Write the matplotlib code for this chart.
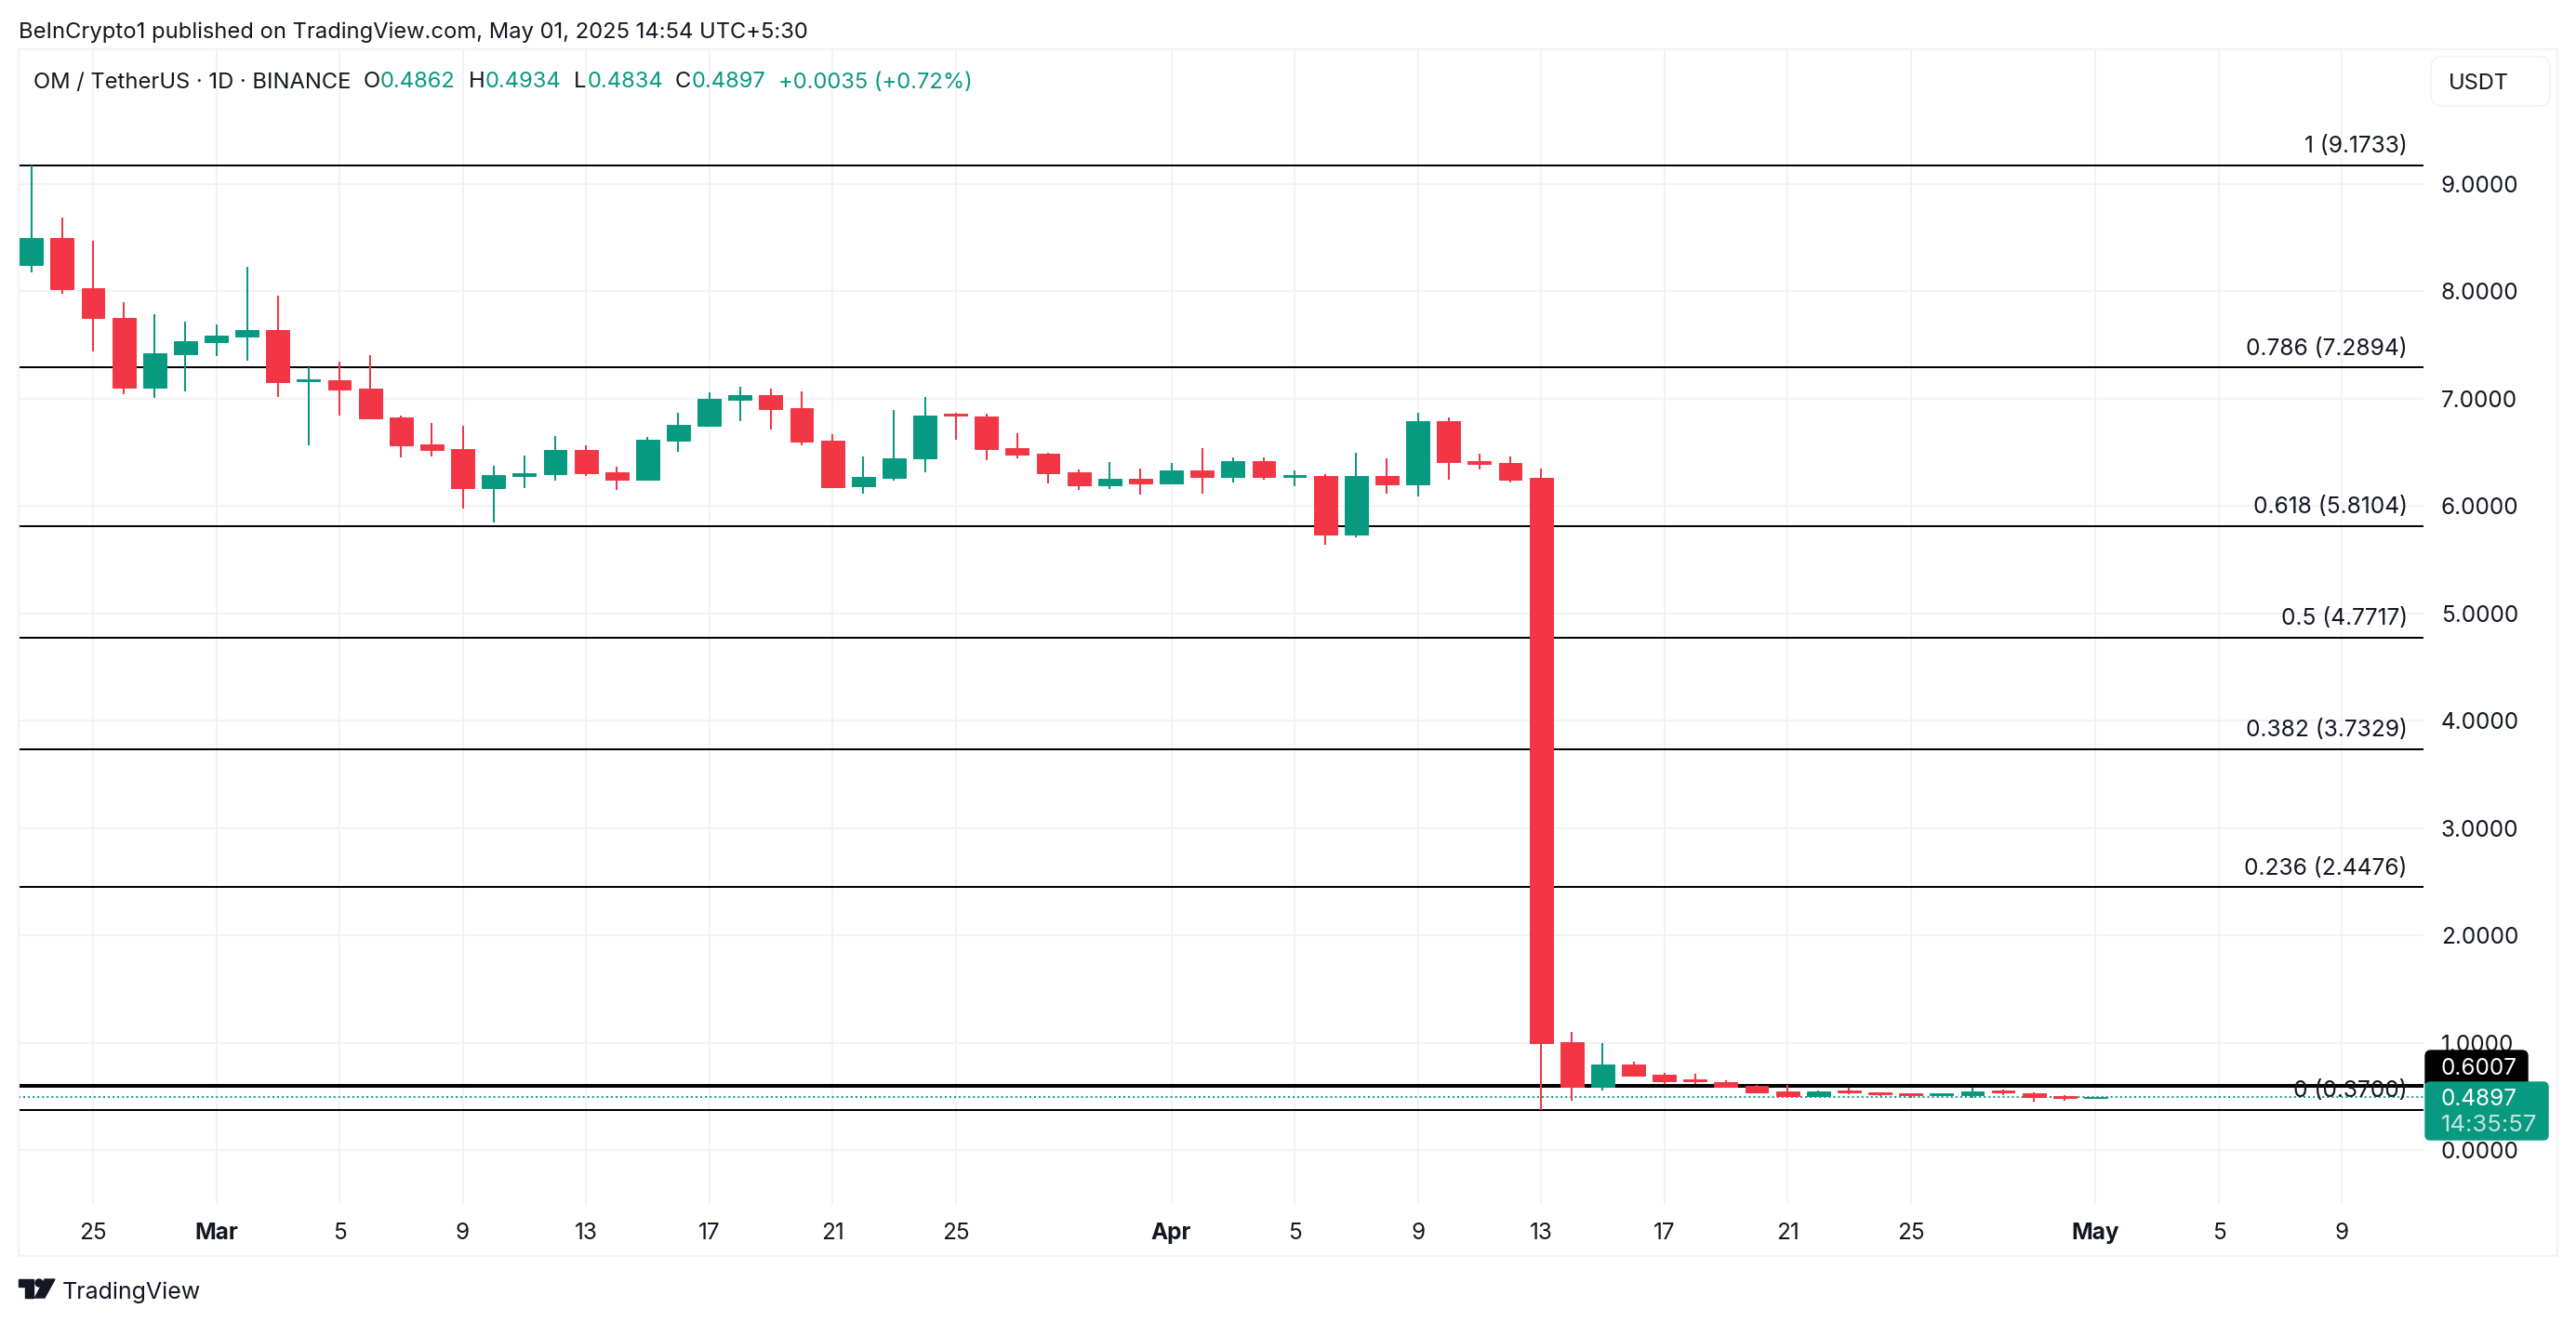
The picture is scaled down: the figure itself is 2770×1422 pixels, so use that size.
#!/usr/bin/env python3

# OM / TetherUS daily candles with fib retracement levels
import numpy as np
import pandas as pd
import matplotlib.pyplot as plt
import matplotlib.dates as mdates
from matplotlib.patches import Rectangle, FancyBboxPatch, Polygon, Circle
from matplotlib.transforms import Affine2D

plt.rcParams['font.family'] = ['Inter', 'DejaVu Sans']

W, H = 2770, 1422
GREEN = '#089981'
RED = '#F23645'
GRID = '#F2F3F6'
INK = '#131722'

first_day = '2025-02-23'
opens = [8.243, 8.498, 8.030, 7.752, 7.103, 7.414, 7.527, 7.580, 7.640, 7.162, 7.172, 7.096, 6.827, 6.576, 6.532, 6.168, 6.280,
         6.297, 6.522, 6.314, 6.247, 6.609, 6.748, 6.990, 7.033, 6.914, 6.609, 6.184, 6.264, 6.446, 6.860, 6.835, 6.541, 6.489,
         6.315, 6.194, 6.255, 6.211, 6.333, 6.272, 6.419, 6.272, 6.281, 5.735, 6.281, 6.203, 6.792, 6.419, 6.402, 6.263, 1.005,
         0.589, 0.797, 0.702, 0.658, 0.632, 0.598, 0.546, 0.502, 0.554, 0.537, 0.528, 0.511, 0.511, 0.554, 0.528, 0.502, 0.4862]
highs = [9.1733, 8.687, 8.472, 7.901, 7.789, 7.719, 7.693, 8.230, 7.961, 7.290, 7.345, 7.408, 6.844, 6.774, 6.748, 6.377, 6.469,
         6.652, 6.566, 6.367, 6.645, 6.870, 7.059, 7.112, 7.096, 7.069, 6.672, 6.463, 6.897, 7.016, 6.870, 6.861, 6.679, 6.497,
         6.341, 6.411, 6.350, 6.402, 6.540, 6.454, 6.454, 6.333, 6.298, 6.497, 6.445, 6.870, 6.826, 6.488, 6.462, 6.350, 1.100,
         0.996, 0.823, 0.719, 0.710, 0.650, 0.606, 0.606, 0.554, 0.580, 0.537, 0.528, 0.528, 0.580, 0.563, 0.537, 0.511, 0.4934]
lows = [8.180, 7.978, 7.441, 7.043, 7.006, 7.069, 7.398, 7.354, 7.016, 6.566, 6.844, 6.817, 6.453, 6.463, 5.979, 5.846, 6.168,
        6.237, 6.280, 6.151, 6.237, 6.506, 6.748, 6.791, 6.715, 6.566, 6.178, 6.115, 6.237, 6.314, 6.619, 6.428, 6.445, 6.211,
        6.151, 6.159, 6.107, 6.211, 6.116, 6.220, 6.246, 6.185, 5.640, 5.709, 6.116, 6.090, 6.246, 6.341, 6.220, 0.370, 0.459,
        0.557, 0.684, 0.615, 0.615, 0.580, 0.537, 0.485, 0.502, 0.520, 0.502, 0.485, 0.502, 0.485, 0.511, 0.450, 0.459, 0.4834]
closes = [8.498, 8.024, 7.749, 7.103, 7.424, 7.537, 7.590, 7.640, 7.156, 7.182, 7.086, 6.817, 6.566, 6.522, 6.168, 6.290, 6.307,
          6.522, 6.307, 6.247, 6.619, 6.758, 7.000, 7.033, 6.904, 6.602, 6.178, 6.270, 6.446, 6.844, 6.844, 6.535, 6.480, 6.307,
          6.194, 6.255, 6.211, 6.333, 6.272, 6.419, 6.272, 6.289, 5.735, 6.281, 6.203, 6.792, 6.411, 6.393, 6.246, 0.999, 0.589,
          0.797, 0.693, 0.641, 0.641, 0.589, 0.537, 0.502, 0.546, 0.537, 0.520, 0.511, 0.528, 0.546, 0.537, 0.494, 0.485, 0.4897]

fib_levels = [9.1733, 7.2894, 5.8104, 4.7717, 3.7329, 2.4476, 0.3700]
fib_labels = ['1 (9.1733)', '0.786 (7.2894)', '0.618 (5.8104)', '0.5 (4.7717)', '0.382 (3.7329)', '0.236 (2.4476)', '0 (0.3700)']
support_level = 0.6007
last_price = 0.4897

price_ticks = [0, 1, 2, 3, 4, 5, 6, 7, 8, 9]
tick_dates = ['2025-02-25', '2025-03-01', '2025-03-05', '2025-03-09', '2025-03-13', '2025-03-17', '2025-03-21', '2025-03-25',
              '2025-04-01', '2025-04-05', '2025-04-09', '2025-04-13', '2025-04-17', '2025-04-21', '2025-04-25', '2025-05-01',
              '2025-05-05', '2025-05-09']
tick_labels = ['25', 'Mar', '5', '9', '13', '17', '21', '25', 'Apr', '5', '9', '13', '17', '21', '25', 'May', '5', '9']
month_labels = ['Mar', 'Apr', 'May']


# pixel position in the picture to figure fraction
def px(x, y):
    return x / W, 1 - y / H


def fig_text(fig, x, y, s, size=17.5, color=INK, ha='left', **kw):
    fx, fy = px(x, y)
    fig.text(fx, fy, s, fontsize=size, color=color, ha=ha, va='center_baseline', zorder=12, **kw)


def fig_box(fig, x0, y0, x1, y1, color, zorder=10, edge=None, radius=6):
    box = FancyBboxPatch((x0, H - y1), x1 - x0, y1 - y0, boxstyle=f'round,pad=0,rounding_size={radius}',
                         facecolor=color, edgecolor=edge if edge else color, linewidth=1, zorder=zorder,
                         transform=Affine2D().scale(1 / W, 1 / H) + fig.transFigure)
    fig.add_artist(box)


def draw_candles(ax):
    days = mdates.date2num(pd.date_range(first_day, periods=len(opens)))
    o, h, l, c = map(np.asarray, (opens, highs, lows, closes))
    colors = np.where(c >= o, GREEN, RED)
    ax.vlines(days, l, h, colors=colors, linewidth=1.45, zorder=4)
    ax.bar(days, np.abs(c - o), bottom=np.minimum(o, c), width=0.75, color=colors, edgecolor=colors, linewidth=0.7, zorder=5)


def draw_levels(ax):
    for lvl, lab in zip(fib_levels, fib_labels):
        ax.axhline(lvl, color='black', linewidth=1.45, zorder=3)
        ax.annotate(lab, xy=(1, lvl), xycoords=('axes fraction', 'data'), xytext=(-12.5, 16.5), textcoords='offset points',
                    ha='right', va='center_baseline', fontsize=17.7, color=INK, zorder=7)
    ax.axhline(support_level, color='black', linewidth=2.9, zorder=3)
    ax.axhline(last_price, color=GREEN, linewidth=1.4, linestyle=(0, (1, 1.6)), zorder=3)


def draw_chrome(fig):
    # outer frame around pane and axes
    frame = Rectangle(px(20, 1351), 2730 / W, 1298 / H, transform=fig.transFigure, fill=False, edgecolor=GRID, linewidth=1.5, zorder=1)
    fig.add_artist(frame)

    fig_text(fig, 20, 32, 'BeInCrypto1 published on TradingView.com, May 01, 2025 14:54 UTC+5:30', size=17.1)

    # ohlc legend line
    fig_text(fig, 36, 86, 'OM / TetherUS · 1D · BINANCE', size=17.1)
    parts = [(391, 'O', INK), (409, '0.4862', GREEN), (504, 'H', INK), (522, '0.4934', GREEN), (617, 'L', INK), (632, '0.4834', GREEN),
             (726, 'C', INK), (744, '0.4897', GREEN), (837, '+0.0035 (+0.72%)', GREEN)]
    for x, s, col in parts:
        fig_text(fig, x, 86, s, size=17.1, color=col)

    # currency button
    fig_box(fig, 2614, 61, 2742, 114, 'white', zorder=9, edge='#F0F1F4', radius=12)
    fig_text(fig, 2633, 88, 'USDT', size=17)

    # price tags
    fig_box(fig, 2608, 1130, 2718, 1170, 'black', zorder=10, radius=6)
    fig_text(fig, 2625, 1147, '0.6007', color='white')
    fig_box(fig, 2608, 1164, 2740, 1226, GREEN, zorder=11, radius=5)
    fig_text(fig, 2625, 1180, '0.4897', color='white')
    fig_text(fig, 2625, 1208, '14:35:57', size=18.5, color='#C4E6DF')

    # tradingview logo
    logo_col = '#131722'
    tf = Affine2D().scale(1 / W, 1 / H) + fig.transFigure
    bar = Polygon([(20, H - 1376), (36, H - 1376), (36, H - 1396), (27, H - 1396), (27, H - 1384), (20, H - 1384)], closed=True, color=logo_col, transform=tf)
    slash = Polygon([(48, H - 1376), (59, H - 1376), (48, H - 1396), (37.5, H - 1396)], closed=True, color=logo_col, transform=tf)
    dot = Circle((42, H - 1380), 4, color=logo_col, transform=tf)
    for p in (bar, slash, dot):
        fig.add_artist(p)
    fig_text(fig, 67, 1388, 'TradingView', size=18)


def main():
    fig = plt.figure(figsize=(W / 100, H / 100), dpi=100, facecolor='white')
    ax = fig.add_axes([20 / W, 1 - 1296 / H, 2586 / W, 1243 / H])

    x_ref = mdates.date2num(pd.Timestamp(tick_dates[0]))
    ax.set_xlim(x_ref - 80 / 33.13, x_ref + 2506 / 33.13)
    ax.set_ylim(-0.511, 10.256)

    ax.set_xticks(mdates.date2num(pd.to_datetime(tick_dates)))
    ax.set_xticklabels(tick_labels, fontsize=17.5, color=INK)
    for lab in ax.get_xticklabels():
        if lab.get_text() in month_labels:
            lab.set_fontweight('bold')
    ax.set_yticks(price_ticks)
    ax.set_yticklabels([f'{p:.4f}' for p in price_ticks], fontsize=17.5, color=INK)
    ax.yaxis.tick_right()
    ax.tick_params(axis='both', length=0)
    ax.tick_params(axis='x', pad=14)
    ax.tick_params(axis='y', pad=13.5)
    ax.grid(True, color=GRID, linewidth=1.5, zorder=0)
    ax.set_axisbelow(True)
    for spine in ax.spines.values():
        spine.set_visible(False)

    draw_levels(ax)
    draw_candles(ax)
    draw_chrome(fig)

    fig.savefig('out.png', dpi=100)


if __name__ == '__main__':
    main()
